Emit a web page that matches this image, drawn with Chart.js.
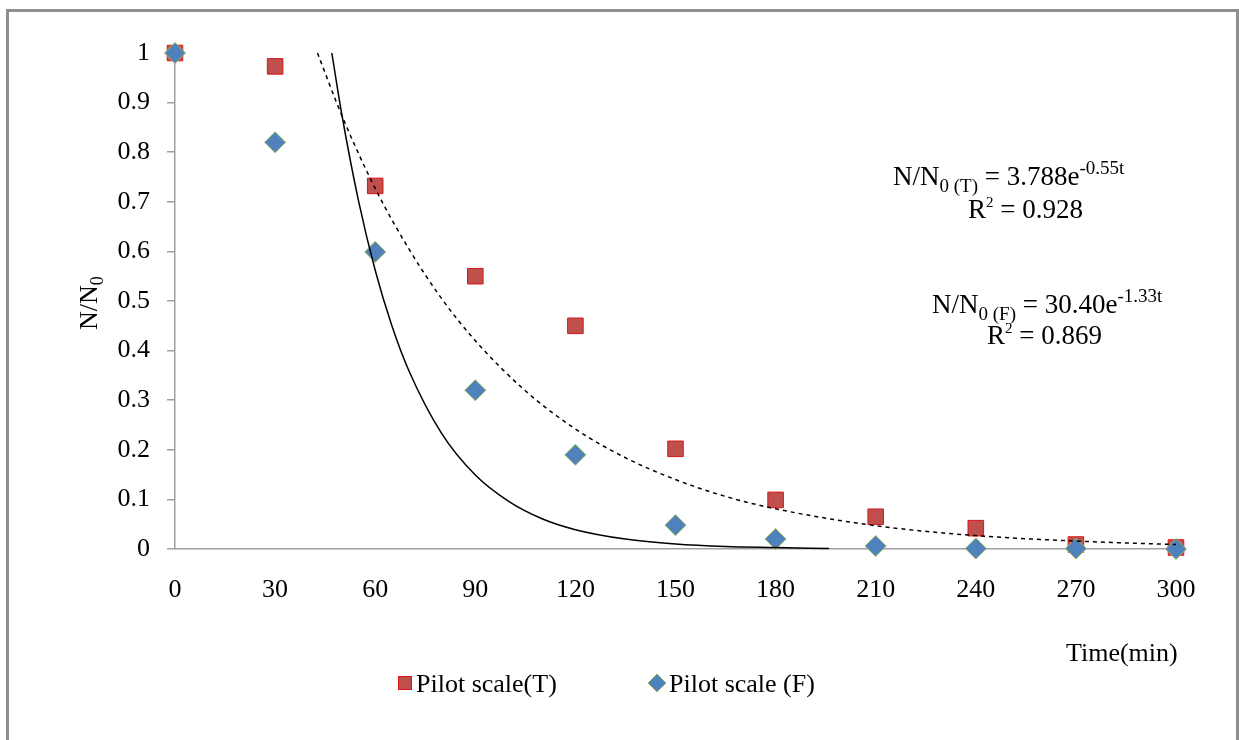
<!DOCTYPE html>
<html>
<head>
<meta charset="utf-8">
<title>N/N0 vs Time</title>
<script src="https://cdn.jsdelivr.net/npm/chart.js"></script>
<style>
  body { margin: 0; background: #fff; }
  canvas { display: block; }
</style>
</head>
<body>
<canvas id="decayChart" width="1239" height="740"></canvas>
<script>
// Measured points
const timeMin = [0, 30, 60, 90, 120, 150, 180, 210, 240, 270, 300];
const pilotT = [1.0, 0.973, 0.732, 0.550, 0.450, 0.202, 0.099, 0.065, 0.042, 0.009, 0.003];
const pilotF = [1.0, 0.820, 0.599, 0.320, 0.190, 0.048, 0.020, 0.006, 0.001, 0.001, 0.0];

// Trendlines
const trendTimeT = [42.7, 50, 60, 70, 80, 90, 105, 120, 135, 150, 165, 180, 210, 240, 270, 300];
const trendValT = [1.0, 0.874, 0.727, 0.606, 0.504, 0.420, 0.319, 0.242, 0.184, 0.140, 0.106, 0.081, 0.047, 0.027, 0.016, 0.009];
const trendTimeF = [47.0, 50, 55, 60, 65, 70, 80, 90, 100, 110, 120, 135, 150, 165, 180, 196];
const trendValF = [1.0, 0.876, 0.702, 0.562, 0.450, 0.361, 0.232, 0.149, 0.096, 0.061, 0.039, 0.020, 0.010, 0.005, 0.003, 0.001];

const serif = "'Liberation Serif', 'Times New Roman', serif";

function toPoints(xs, ys) {
  return xs.map(function (x, i) { return { x: x, y: ys[i] }; });
}

// draw a line of text made of runs: [text, fontSize, yOffset]
function drawRuns(ctx, x, y, runs) {
  runs.forEach(function (r) {
    ctx.font = r[1] + "px " + serif;
    ctx.fillText(r[0], x, y + r[2]);
    x += ctx.measureText(r[0]).width;
  });
}

const framePlugin = {
  id: 'frame',
  beforeDraw: function (chart) {
    var ctx = chart.ctx;
    ctx.save();
    ctx.fillStyle = '#fff';
    ctx.fillRect(0, 0, chart.width, chart.height);
    ctx.strokeStyle = '#8e8e8e';
    ctx.lineWidth = 3;
    ctx.beginPath();
    ctx.moveTo(7.5, chart.height);
    ctx.lineTo(7.5, 10.5);
    ctx.lineTo(1237.5, 10.5);
    ctx.lineTo(1237.5, chart.height);
    ctx.stroke();
    ctx.restore();
  },
  afterDraw: function (chart) {
    var ctx = chart.ctx;
    ctx.save();
    ctx.fillStyle = '#000';
    ctx.textBaseline = 'alphabetic';
    ctx.textAlign = 'left';

    // y axis title N/N0
    ctx.save();
    ctx.translate(97, 330);
    ctx.rotate(-Math.PI / 2);
    drawRuns(ctx, 0, 0, [["N/N", 26, 0], ["0", 18, 6]]);
    ctx.restore();

    // x axis title
    ctx.font = "26px " + serif;
    ctx.fillText("Time(min)", 1066, 661);

    // equations
    drawRuns(ctx, 893, 185, [["N/N", 27, 0], ["0 (T)", 19, 7], [" = 3.788e", 27, 0], ["-0.55t", 19, -11]]);
    drawRuns(ctx, 968, 218, [["R", 27, 0], ["2", 15, -11], [" = 0.928", 27, 0]]);
    drawRuns(ctx, 932, 313, [["N/N", 27, 0], ["0 (F)", 19, 7], [" = 30.40e", 27, 0], ["-1.33t", 19, -11]]);
    drawRuns(ctx, 987, 344, [["R", 27, 0], ["2", 15, -11], [" = 0.869", 27, 0]]);

    // legend
    ctx.fillStyle = '#c0504d';
    ctx.strokeStyle = '#d8151a';
    ctx.lineWidth = 1;
    ctx.fillRect(398, 676, 14, 14);
    ctx.strokeRect(398.5, 676.5, 13, 13);
    ctx.fillStyle = '#000';
    ctx.font = "26px " + serif;
    ctx.fillText("Pilot scale(T)", 416, 692);

    ctx.fillStyle = '#4f81bd';
    ctx.strokeStyle = '#9bbb59';
    ctx.beginPath();
    ctx.moveTo(657, 674);
    ctx.lineTo(666, 683);
    ctx.lineTo(657, 692);
    ctx.lineTo(648, 683);
    ctx.closePath();
    ctx.fill();
    ctx.stroke();
    ctx.fillStyle = '#000';
    ctx.fillText("Pilot scale (F)", 669, 692);
    ctx.restore();
  }
};

new Chart("decayChart", {
  type: "scatter",
  data: {
    datasets: [{
      label: "Trend (F)",
      type: "line",
      data: toPoints(trendTimeF, trendValF),
      borderColor: "#000",
      borderWidth: 1.5,
      pointRadius: 0,
      cubicInterpolationMode: "monotone",
      fill: false,
      clip: false,
      order: 0
    }, {
      label: "Trend (T)",
      type: "line",
      data: toPoints(trendTimeT, trendValT),
      borderColor: "#000",
      borderWidth: 1.5,
      borderDash: [4, 4],
      pointRadius: 0,
      cubicInterpolationMode: "monotone",
      fill: false,
      clip: false,
      order: 1
    }, {
      label: "Pilot scale (F)",
      data: toPoints(timeMin, pilotF),
      pointStyle: "rectRot",
      pointRadius: 10.5,
      backgroundColor: "#4f81bd",
      borderColor: "#9bbb59",
      borderWidth: 1,
      clip: false,
      order: 2
    }, {
      label: "Pilot scale(T)",
      data: toPoints(timeMin, pilotT),
      pointStyle: "rect",
      pointRadius: 11,
      backgroundColor: "#c0504d",
      borderColor: "#d8151a",
      borderWidth: 1,
      clip: false,
      order: 3
    }]
  },
  options: {
    responsive: false,
    animation: false,
    devicePixelRatio: 1,
    layout: { padding: { top: 53, right: 63, bottom: 141, left: 0 } },
    plugins: {
      legend: { display: false },
      tooltip: { enabled: false }
    },
    scales: {
      x: {
        type: "linear",
        min: 0,
        max: 300,
        afterFit: function (scale) { scale.height = 50; },
        ticks: { stepSize: 30, color: "#000", padding: 26, font: { family: serif, size: 26 } },
        grid: { drawOnChartArea: false, drawTicks: false },
        border: { color: "#a0a0a0", width: 1.5 }
      },
      y: {
        min: 0,
        max: 1,
        afterFit: function (scale) { scale.width = 175; },
        ticks: {
          stepSize: 0.1,
          color: "#000",
          padding: 17,
          font: { family: serif, size: 26 },
          callback: function (value) { return String(+value.toFixed(1)); }
        },
        grid: { drawOnChartArea: false, drawTicks: true, tickLength: 8, color: "#a0a0a0", lineWidth: 1.5 },
        border: { color: "#a0a0a0", width: 1.5 }
      }
    }
  },
  plugins: [framePlugin]
});
</script>
</body>
</html>
